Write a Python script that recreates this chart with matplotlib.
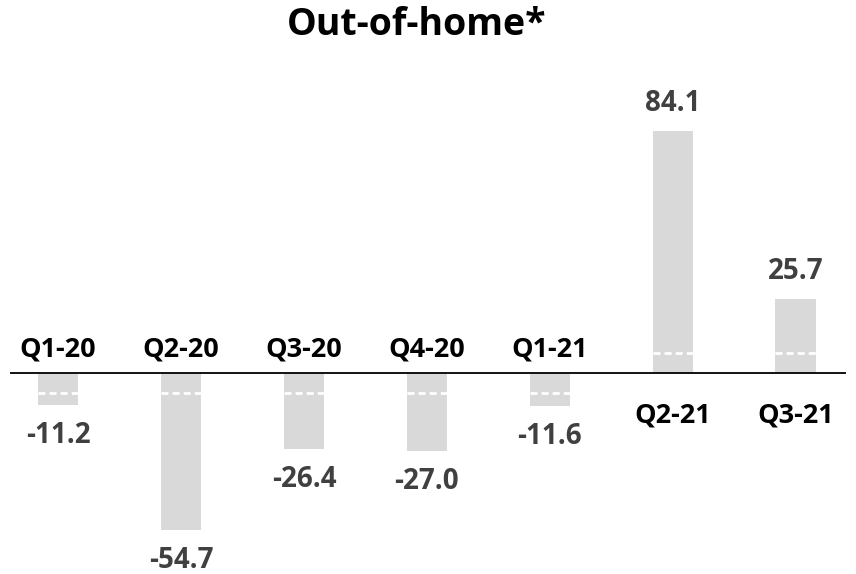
import numpy as np
import matplotlib.pyplot as plt

# data
quarters = ["Q1-20", "Q2-20", "Q3-20", "Q4-20", "Q1-21", "Q2-21", "Q3-21"]
values = [-11.2, -54.7, -26.4, -27.0, -11.6, 84.1, 25.7]
marker = 7.0  # dashed reference level inside each bar

plt.rcParams['font.family'] = ['Open Sans', 'DejaVu Sans']

fig = plt.figure(figsize=(8.56, 5.74), dpi=100)
ax = fig.add_axes([0, 0, 1, 1])

x = np.arange(len(quarters))
ax.bar(x, values, width=0.33, color='#d9d9d9', zorder=1)

# dashed marks inside the bars
for xi, v in zip(x, values):
    y = marker if v > 0 else -marker
    ax.hlines(y, xi - 0.165, xi + 0.165, colors='white', linestyles=(0, (2.5, 1.5)), lw=2, zorder=2)

# zero line
ax.hlines(0, -0.39, 6.41, colors='black', lw=1.3, zorder=3)

for xi, v, q in zip(x, values, quarters):
    if v < 0:
        ax.annotate(f"{v:.1f}", (xi, v), xytext=(0, -27.5), textcoords='offset points',
                    ha='center', va='baseline', fontsize=20, fontweight='bold', color='#404040')
        ax.annotate(q, (xi, 0), xytext=(0, 12), textcoords='offset points',
                    ha='center', va='baseline', fontsize=19.5, fontweight='bold', color='black')
    else:
        ax.annotate(f"{v:.1f}", (xi, v), xytext=(0, 14), textcoords='offset points',
                    ha='center', va='baseline', fontsize=20, fontweight='bold', color='#404040')
        ax.annotate(q, (xi, 0), xytext=(0, -36), textcoords='offset points',
                    ha='center', va='baseline', fontsize=19.5, fontweight='bold', color='black')

ax.set_xlim(-0.472, 6.49)
ax.set_ylim(-69.9, 129.6)
ax.axis('off')

fig.text(0.487, 0.939, "Out-of-home*", ha='center', va='baseline', fontsize=27, fontweight='bold')

fig.savefig('out.png', dpi=100)
